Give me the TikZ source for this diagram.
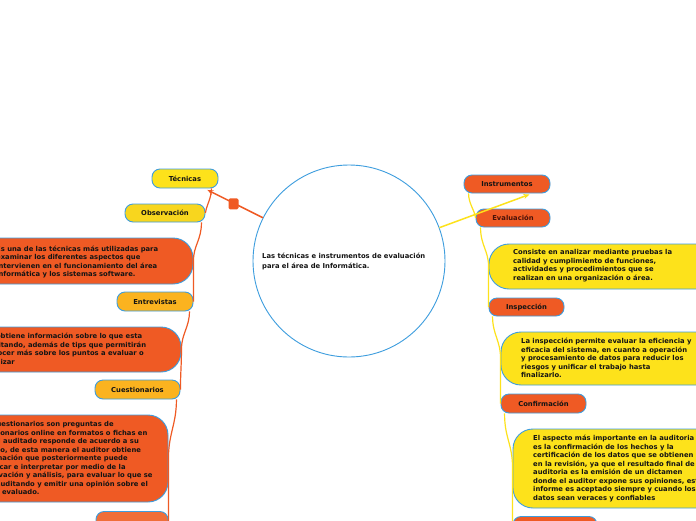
\documentclass[tikz,border=0pt]{standalone}
\usepackage{fontspec}
\setmainfont{DejaVu Sans}
\usetikzlibrary{arrows.meta}
\definecolor{cyel}{HTML}{FDE21B}
\definecolor{cgold}{HTML}{F8D61E}
\definecolor{camber}{HTML}{FBB31F}
\definecolor{corange}{HTML}{EF5A24}
\definecolor{clight}{HTML}{F06E38}
\definecolor{cblue}{HTML}{3D9DDE}
\definecolor{ctext}{HTML}{141414}
\definecolor{cdark}{HTML}{4A1208}
\tikzset{
  tfont/.style={font=\bfseries\fontsize{6.8}{8.5}\selectfont},
  lbl/.style={draw=cblue, line width=0.9pt, rounded corners=8pt, inner sep=0pt, tfont, text=ctext},
  desc/.style={draw=cblue, line width=0.9pt, rounded corners=20pt, inner sep=0pt},
  dtext/.style={anchor=west, align=left, inner sep=0pt, tfont, text=ctext},
  oline/.style={draw=corange, line width=1.2pt},
  yline/.style={draw=cyel, line width=1.2pt},
}
\begin{document}
\begin{tikzpicture}[x=1pt,y=-1pt]
\useasboundingbox (0,0) rectangle (696,520);
\clip (0,0) rectangle (696,520);
\fill[white] (0,0) rectangle (696,520);

% central
\node[circle, draw=cblue, line width=0.9pt, minimum size=192pt, inner sep=0pt] (c) at (349,261) {};
\node[anchor=west, align=left, inner sep=0pt, font=\bfseries\fontsize{6.8}{10}\selectfont, text=ctext] (ct) at (262,261.7)
  {Las técnicas e instrumentos de evaluación\\para el área de Informática.};

% left side
\node[lbl, fill=cyel, minimum width=66pt, minimum height=19pt] (tec) at (185,178.5) {Técnicas};
\node[lbl, fill=cgold, minimum width=80pt, minimum height=18pt] (obs) at (165,213) {Observación};
\node[desc, fill=corange, minimum width=233pt, minimum height=46pt] (b1) at (76.5,261) {};
\node[dtext] (b1t) at (-4,261.8) {Es una de las técnicas más utilizadas para\\examinar los diferentes aspectos que\\intervienen en el funcionamiento del área\\informática y los sistemas software.};
\node[lbl, fill=camber, minimum width=76pt, minimum height=19pt] (ent) at (155,301.5) {Entrevistas};
\node[desc, fill=corange, minimum width=241pt, minimum height=45pt] (b2) at (60.5,349.5) {};
\node[dtext] (b2t) at (-16,348.7) {Se obtiene información sobre lo que esta\\auditando, además de tips que permitirán\\conocer más sobre los puntos a evaluar o\\analizar};
\node[lbl, fill=camber, minimum width=85pt, minimum height=19pt] (cue) at (137.5,389.5) {Cuestionarios};
\node[desc, fill=corange, minimum width=248pt, minimum height=87pt] (b3) at (44,458.5) {};
\node[dtext] (b3t) at (-23,459) {Los cuestionarios son preguntas de\\cuestionarios online en formatos o fichas en\\que el auditado responde de acuerdo a su\\criterio, de esta manera el auditor obtiene\\información que posteriormente puede\\clasificar e interpretar por medio de la\\observación y análisis, para evaluar lo que se\\esta auditando y emitir una opinión sobre el\\punto evaluado.};
\node[lbl, fill=clight, minimum width=72pt, minimum height=19pt] (bl) at (132,521) {};

% right side
\node[lbl, fill=corange, minimum width=86pt, minimum height=18pt] (ins) at (507,184) {Instrumentos};
\node[lbl, fill=corange, minimum width=74pt, minimum height=18pt, text=cdark] (eva) at (513,218) {Evaluación};
\node[desc, fill=cyel, minimum width=251pt, minimum height=45pt] (y1) at (614.5,266.5) {};
\node[dtext] (y1t) at (513,265.8) {Consiste en analizar mediante pruebas la\\calidad y cumplimiento de funciones,\\actividades y procedimientos que se\\realizan en una organización o área.};
\node[lbl, fill=corange, minimum width=75pt, minimum height=18pt] (isp) at (526.5,307) {Inspección};
\node[desc, fill=cyel, minimum width=239pt, minimum height=53pt] (y2) at (620.5,358.5) {};
\node[dtext] (y2t) at (521,358.3) {La inspección permite evaluar la eficiencia y\\eficacia del sistema, en cuanto a operación\\y procesamiento de datos para reducir los\\riesgos y unificar el trabajo hasta\\finalizarlo.};
\node[lbl, fill=corange, minimum width=85pt, minimum height=19pt] (con) at (543.5,403.5) {Confirmación};
\node[desc, fill=cyel, minimum width=227pt, minimum height=79pt] (y3) at (626.5,468.5) {};
\node[dtext] (y3t) at (533,468.3) {El aspecto más importante en la auditoria\\es la confirmación de los hechos y la\\certificación de los datos que se obtienen\\en la revisión, ya que el resultado final de la\\auditoria es la emisión de un dictamen\\donde el auditor expone sus opiniones, este\\informe es aceptado siempre y cuando los\\datos sean veraces y confiables};
\node[lbl, fill=corange, minimum width=84pt, minimum height=19pt] (br) at (555,526) {};

% main connectors
\coordinate (tecin) at ([xshift=-11pt,yshift=-1.5pt]tec.south east);
\coordinate (insin) at ([xshift=-21pt,yshift=-1pt]ins.south east);
\draw[draw=corange, line width=1.5pt, -{Stealth[length=6pt,width=5pt]}] (c) -- (tecin);
\draw[draw=cyel, line width=1.5pt, -{Stealth[length=6pt,width=5pt]}] (c) -- (insin);
\node[fill=corange, rounded corners=1.5pt, minimum width=10pt, minimum height=11pt, inner sep=0pt] (knob) at (233.5,203.8) {};

% left trunk
\draw[oline] ([xshift=-7pt]tec.south east) .. controls +(0,10) and +(1,-8) .. (obs.east);
\draw[oline] ([xshift=-4pt]obs.south east) .. controls +(0,18) and +(0,-16) .. (b1.east) .. controls +(0,16) and +(0,-16) .. (ent.east);
\draw[oline] ([xshift=-4pt]ent.south east) .. controls +(0,16) and +(0,-16) .. (b2.east) .. controls +(0,16) and +(0,-16) .. (cue.east);
\draw[oline] ([xshift=-4pt]cue.south east) .. controls +(0,25) and +(0,-25) .. (b3.east) .. controls +(0,25) and +(0,-25) .. (bl.east);

% right trunk
\draw[yline] ([xshift=5pt]ins.south west) .. controls +(0,10) and +(-1,-8) .. (eva.west);
\draw[yline] ([xshift=5pt]eva.south west) .. controls +(0,18) and +(0,-16) .. (y1.west) .. controls +(0,16) and +(0,-16) .. (isp.west);
\draw[yline] ([xshift=4pt]isp.south west) .. controls +(0,18) and +(0,-18) .. (y2.west) .. controls +(0,18) and +(0,-18) .. (con.west);
\draw[yline] ([xshift=4pt]con.south west) .. controls +(0,25) and +(0,-25) .. (y3.west) .. controls +(0,25) and +(0,-25) .. (br.west);
\end{tikzpicture}
\end{document}
